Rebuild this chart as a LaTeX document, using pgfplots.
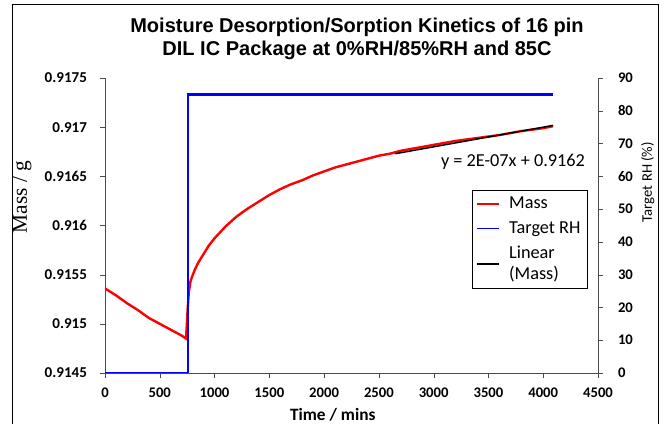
\documentclass[border=0pt]{standalone}
\usepackage{fontspec}
\setmainfont{Carlito}
\newfontfamily\arialfont{Liberation Sans}
\newfontfamily\timesfont{Liberation Serif}
\usepackage{pgfplots}
\pgfplotsset{compat=1.18}

\pgfplotstableread{
t m
0 0.91536
100 0.91529
200 0.91521
300 0.91514
400 0.91506
500 0.91500
600 0.91494
700 0.91488
740 0.91485
755 0.91516
765 0.91532
780 0.91543
795 0.91548
820 0.91555
850 0.91562
900 0.91571
950 0.91580
1000 0.91587
1100 0.91599
1200 0.91609
1300 0.91617
1400 0.91624
1500 0.91631
1600 0.91637
1700 0.91642
1800 0.91646
1900 0.91651
2000 0.91655
2100 0.91659
2200 0.91662
2300 0.91665
2400 0.91668
2500 0.91671
2600 0.91673
2700 0.91676
2800 0.91678
2900 0.91680
3000 0.91682
3200 0.91686
3400 0.91689
3600 0.91692
3800 0.91696
4000 0.91699
4090 0.91701
}\masstable

\begin{document}
\begin{tikzpicture}
\useasboundingbox (-78.75pt,-38.25pt) rectangle (419.25pt,279.75pt);
\draw[black, line width=0.6pt] (-69.75pt,-38.25pt) -- (-69.75pt,276.75pt) -- (414.75pt,276.75pt) -- (414.75pt,-38.25pt);
\node[font=\arialfont\bfseries\fontsize{15}{17.5}\selectfont, align=center] at (189pt,250.5pt)
  {Moisture Desorption/Sorption Kinetics of 16 pin\\DIL IC Package at 0\%RH/85\%RH and 85C};

% left axis: mass
\begin{axis}[
    at={(0,0)}, anchor=south west,
    scale only axis, width=369.75pt, height=221.25pt,
    xmin=0, xmax=4500, ymin=0.9145, ymax=0.9175,
    axis x line*=bottom, axis y line*=left,
    axis line style={gray!60!black, line width=0.5pt},
    tick align=outside, major tick length=3.5pt,
    tick style={gray!60!black},
    xtick={0,500,...,4500},
    xticklabels={0,500,1000,1500,2000,2500,3000,3500,4000,4500},
    ytick={0.9145,0.915,0.9155,0.916,0.9165,0.917,0.9175},
    yticklabels={0.9145,0.915,0.9155,0.916,0.9165,0.917,0.9175},
    x tick label style={font=\bfseries\fontsize{11}{12}\selectfont, yshift=-4.5pt},
    y tick label style={font=\bfseries\fontsize{11.3}{13}\selectfont, xshift=-6.5pt},
    xlabel={Time / mins},
    xlabel style={font=\bfseries\fontsize{13}{15}\selectfont, at={(axis description cs:0.462,-0.162)}, anchor=base},
    ylabel={Mass / g},
    ylabel style={font=\timesfont\fontsize{16}{18}\selectfont, at={(axis description cs:-0.168,0.597)}, anchor=center},
]
\addplot[red, line width=1.8pt] table[x=t, y=m] {\masstable};
\addplot[black, line width=1.1pt] coordinates {(2650,0.91673) (4090,0.917018)};
\node[font=\fontsize{13.7}{16}\selectfont] at (axis cs:3724,0.91665) {y = 2E-07x + 0.9162};
\end{axis}

% right axis: target RH
\begin{axis}[
    at={(0,0)}, anchor=south west,
    scale only axis, width=369.75pt, height=221.25pt,
    xmin=0, xmax=4500, ymin=0, ymax=90,
    axis x line=none, axis y line*=right,
    axis line style={gray!60!black, line width=0.5pt},
    tick align=outside, major tick length=3.5pt,
    tick style={gray!60!black},
    ytick={0,10,...,90},
    yticklabels={0,10,20,30,40,50,60,70,80,90},
    y tick label style={font=\bfseries\fontsize{11}{12}\selectfont, xshift=8pt},
    ylabel={Target RH (\%)},
    ylabel style={font=\fontsize{11}{12}\selectfont, at={(axis description cs:1.101,0.647)}, anchor=center},
    legend style={at={(axis description cs:0.744,0.620)}, anchor=north west,
        draw=black, line width=0.5pt, font=\fontsize{13.7}{16}\selectfont,
        cells={align=left, anchor=west}, row sep=4pt, inner sep=3pt},
    legend image code/.code={\draw[#1] (0pt,0pt) -- (16pt,0pt); \path (21pt,0pt);},
]
\addlegendimage{red, line width=1.8pt}
\addlegendentry{Mass}
\addplot[blue, line width=1.8pt, forget plot] coordinates {(0,0) (758,0) (758,85) (4090,85)};
\addlegendimage{blue, line width=0.5pt}
\addlegendentry{Target RH}
\addlegendimage{black, line width=1.1pt}
\addlegendentry{Linear\\(Mass)}
\end{axis}
\end{tikzpicture}
\end{document}
